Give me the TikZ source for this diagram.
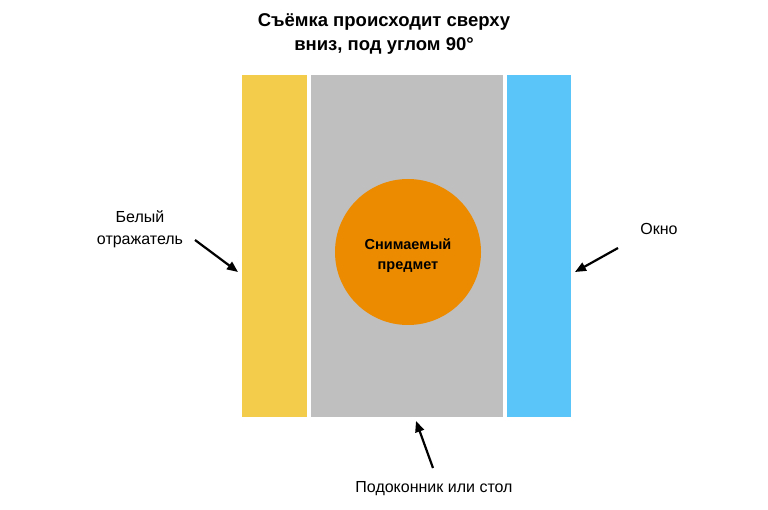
\documentclass[tikz,border=0pt]{standalone}
\usepackage{fontspec}
\setmainfont{Liberation Sans}
\usetikzlibrary{arrows.meta}
\begin{document}
\begin{tikzpicture}[x=1pt,y=-1pt,
  lbl/.style={font=\fontsize{16}{22}\selectfont,align=center},
  arr/.style={-{Triangle[length=11pt,width=9pt]},line width=2.2pt}]
\useasboundingbox (0,0) rectangle (768,510);
\fill[white] (0,0) rectangle (768,510);
\fill[fill={rgb,255:red,244;green,204;blue,76}] (242,75) rectangle (307,417);
\fill[fill={rgb,255:red,191;green,191;blue,191}] (311,75) rectangle (503,417);
\fill[fill={rgb,255:red,90;green,197;blue,248}] (507,75) rectangle (571,417);
\node[circle,fill={rgb,255:red,236;green,139;blue,0},minimum size=146pt,inner sep=0] (c) at (408,252) {};
\node[font=\bfseries\fontsize{14.5}{20}\selectfont,align=center] (ct) at (408,256) {Снимаемый\\предмет};
\node[font=\bfseries\fontsize{18.5}{24}\selectfont,align=center] (t) at (384,34) {Съёмка происходит сверху\\вниз, под углом 90°};
\node[lbl] (l1) at (140,229) {Белый\\отражатель};
\node[lbl] (l2) at (659,229) {Окно};
\node[lbl] (l3) at (434,489) {Подоконник или стол};
\coordinate (a1s) at (195,240); \coordinate (a1e) at (238,272);
\coordinate (a2s) at (618,248); \coordinate (a2e) at (575,272);
\coordinate (a3s) at (433,468); \coordinate (a3e) at (416,421);
\draw[arr] (a1s) -- (a1e);
\draw[arr] (a2s) -- (a2e);
\draw[arr] (a3s) -- (a3e);
\end{tikzpicture}
\end{document}
